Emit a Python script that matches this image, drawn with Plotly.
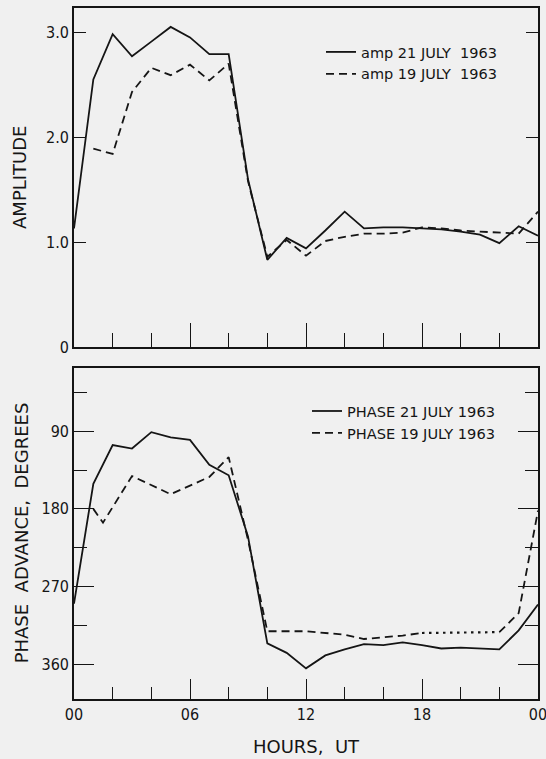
import plotly.graph_objects as go

# ---------------- data ----------------
hours = list(range(25))

amp_21_hours = hours
amp_21 = [1.13, 2.55, 2.98, 2.77, 2.91, 3.05, 2.95, 2.79, 2.79, 1.60, 0.83, 1.04, 0.94,
          1.11, 1.29, 1.13, 1.14, 1.14, 1.13, 1.12, 1.10, 1.07, 0.99, 1.15, 1.06]

amp_19_hours = list(range(1, 25))
amp_19 = [1.89, 1.84, 2.43, 2.66, 2.59, 2.69, 2.54, 2.70, 1.58, 0.86, 1.02, 0.87,
          1.01, 1.05, 1.08, 1.08, 1.09, 1.14, 1.13, 1.11, 1.10, 1.09, 1.08, 1.29]

phase_21_hours = hours
phase_21 = [290, 151, 106, 110, 91, 97, 100, 129, 141, 212, 336, 347, 365,
            350, 343, 337, 338, 335, 338, 342, 341, 342, 343, 321, 291]

phase_19_hours = [1, 1.5, 3, 5, 7, 8, 9, 10, 12, 14, 15, 17, 18]
phase_19 = [180, 196, 142, 163, 143, 120, 216, 322, 322, 326, 331, 327, 324]
phase_19_dot_hours = [18, 22]
phase_19_dot = [324, 323]
phase_19_end_hours = [22, 23, 24]
phase_19_end = [323, 301, 182]

hour_tickvals = [0, 6, 12, 18, 24]
hour_ticktext = ["00", "06", "12", "18", "00"]
hour_minor = [2, 4, 8, 10, 14, 16, 20, 22]
hour_all = [2, 4, 6, 8, 10, 12, 14, 16, 18, 20, 22]
amp_tickvals = [0, 1, 2, 3]
amp_ticktext = ["0", "1.0", "2.0", "3.0"]
phase_tickvals = [90, 180, 270, 360]
phase_minor = [45, 135, 225, 315]

# ---------------- style ----------------
INK = "#151515"
BG = "#f0f0f0"
LW = 1.8
DASH = "8px,5px"
TXT = "DejaVu Sans, Verdana, sans-serif"
NUM = "DejaVu Sans Condensed, Liberation Sans Narrow, Arial Narrow, DejaVu Sans, sans-serif"

fig = go.Figure()

fig.add_trace(go.Scatter(x=amp_21_hours, y=amp_21, mode="lines", name="amp 21 JULY  1963",
                         line=dict(color=INK, width=LW), xaxis="x", yaxis="y", legend="legend"))
fig.add_trace(go.Scatter(x=amp_19_hours, y=amp_19, mode="lines", name="amp 19 JULY  1963",
                         line=dict(color=INK, width=LW, dash=DASH), xaxis="x", yaxis="y",
                         legend="legend"))

fig.add_trace(go.Scatter(x=phase_21_hours, y=phase_21, mode="lines", name="PHASE 21 JULY 1963",
                         line=dict(color=INK, width=LW), xaxis="x2", yaxis="y2", legend="legend2"))
fig.add_trace(go.Scatter(x=phase_19_hours, y=phase_19, mode="lines", name="PHASE 19 JULY 1963",
                         line=dict(color=INK, width=LW, dash=DASH), xaxis="x2", yaxis="y2",
                         legend="legend2"))
fig.add_trace(go.Scatter(x=phase_19_dot_hours, y=phase_19_dot, mode="lines", showlegend=False,
                         line=dict(color=INK, width=LW + 0.4, dash="2.5px,4.5px"),
                         xaxis="x2", yaxis="y2"))
fig.add_trace(go.Scatter(x=phase_19_end_hours, y=phase_19_end, mode="lines", showlegend=False,
                         line=dict(color=INK, width=LW, dash=DASH), xaxis="x2", yaxis="y2"))

XDOM = [74 / 546, 538 / 546]
Y1DOM = [1 - 347 / 759, 1 - 7.5 / 759]
Y2DOM = [1 - 698.5 / 759, 1 - 367.5 / 759]

axis_common = dict(showgrid=False, zeroline=False, showline=True, linecolor=INK, linewidth=1.6,
                   ticks="inside", tickcolor=INK, tickwidth=1.4, automargin=False,
                   ticklabeloverflow="allow",
                   tickfont=dict(family=NUM, size=16, color=INK))
overlay_common = dict(showgrid=False, zeroline=False, showline=False, ticks="inside",
                      ticklen=14, tickcolor=INK, tickwidth=1.4, showticklabels=False,
                      automargin=False, range=[0, 24], side="top")

fig.update_layout(
    template="none",
    width=546, height=759,
    margin=dict(l=0, r=0, t=0, b=0, autoexpand=False),
    paper_bgcolor=BG, plot_bgcolor=BG,
    showlegend=True,
    xaxis=dict(domain=XDOM, range=[0, 24], anchor="y", mirror=True,
               tickvals=[6, 12, 18], ticklen=24, showticklabels=False,
               minor=dict(ticks="inside", tickvals=hour_minor, ticklen=14,
                          tickcolor=INK, tickwidth=1.4),
               **axis_common),
    xaxis3=dict(overlaying="x", anchor="y", tickvals=hour_all, **overlay_common),
    yaxis=dict(domain=Y1DOM, range=[0, 3.235], anchor="x", mirror="ticks",
               tickvals=amp_tickvals, ticktext=amp_ticktext, ticklen=12,
               title=dict(text="AMPLITUDE", font=dict(family=TXT, size=18, color=INK), standoff=15),
               **axis_common),
    xaxis2=dict(domain=XDOM, range=[0, 24], anchor="y2", mirror=True,
                tickvals=hour_tickvals, ticktext=hour_ticktext, ticklen=20,
                minor=dict(ticks="inside", tickvals=hour_minor, ticklen=12,
                           tickcolor=INK, tickwidth=1.4),
                title=dict(text="HOURS,  UT", font=dict(family=TXT, size=18, color=INK), standoff=18),
                **axis_common),
    xaxis4=dict(overlaying="x2", anchor="y2", tickvals=hour_all, **overlay_common),
    yaxis2=dict(domain=Y2DOM, range=[400, 16], anchor="x2", mirror="ticks",
                tickvals=phase_tickvals, ticklen=20,
                minor=dict(ticks="inside", tickvals=phase_minor, ticklen=13,
                           tickcolor=INK, tickwidth=1.4),
                title=dict(text="PHASE  ADVANCE,  DEGREES", font=dict(family=TXT, size=18, color=INK),
                           standoff=8),
                **axis_common),
    legend=dict(x=321 / 546, y=1 - 36 / 759, xanchor="left", yanchor="top",
                bgcolor="rgba(0,0,0,0)", font=dict(family=TXT, size=14.5, color=INK),
                tracegroupgap=0),
    legend2=dict(x=307 / 546, y=1 - 395 / 759, xanchor="left", yanchor="top",
                 bgcolor="rgba(0,0,0,0)", font=dict(family=TXT, size=14.6, color=INK),
                 tracegroupgap=0),
)

fig.write_html("out.html")
